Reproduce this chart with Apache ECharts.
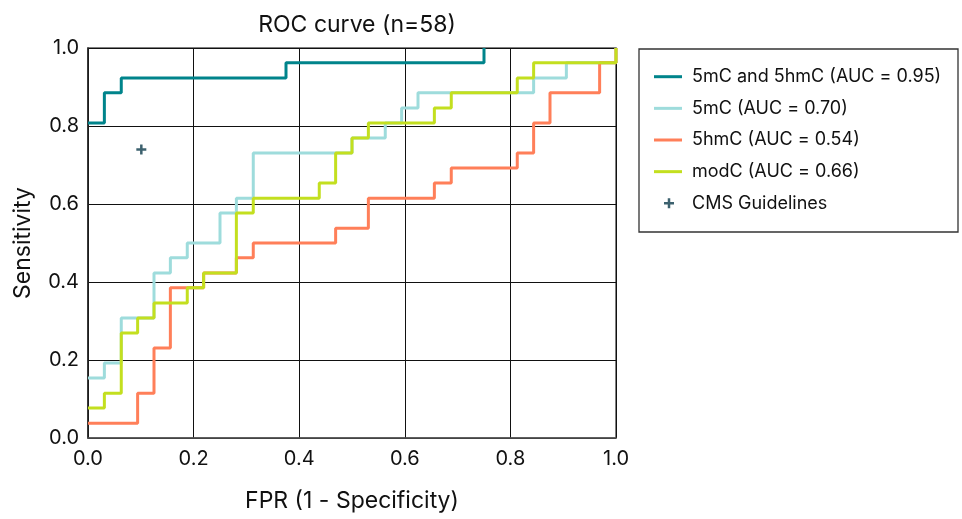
<!DOCTYPE html>
<html>
<head>
<meta charset="utf-8">
<script src="https://cdn.jsdelivr.net/npm/echarts@6/dist/echarts.min.js"></script>
<style>
  html, body { margin: 0; padding: 0; background: #fff; }
  #chart { width: 962px; height: 519px; }
</style>
</head>
<body>
<div id="chart"></div>
<script>
// ROC step curves, corner points as [FPR, sensitivity]
const both = [[0, 0.808], [0.031, 0.808], [0.031, 0.885], [0.063, 0.885], [0.063, 0.923],
  [0.375, 0.923], [0.375, 0.962], [0.75, 0.962], [0.75, 1.0]];

const mC = [[0, 0.154], [0.031, 0.154], [0.031, 0.192], [0.063, 0.192], [0.063, 0.308],
  [0.125, 0.308], [0.125, 0.423], [0.156, 0.423], [0.156, 0.462], [0.188, 0.462],
  [0.188, 0.5], [0.25, 0.5], [0.25, 0.577], [0.281, 0.577], [0.281, 0.615],
  [0.313, 0.615], [0.313, 0.731], [0.5, 0.731], [0.5, 0.769], [0.563, 0.769],
  [0.563, 0.808], [0.594, 0.808], [0.594, 0.846], [0.625, 0.846], [0.625, 0.885],
  [0.844, 0.885], [0.844, 0.923], [0.906, 0.923], [0.906, 0.962], [1, 0.962], [1, 1]];

const hmC = [[0, 0.038], [0.094, 0.038], [0.094, 0.115], [0.125, 0.115], [0.125, 0.231],
  [0.156, 0.231], [0.156, 0.385], [0.219, 0.385], [0.219, 0.423], [0.281, 0.423],
  [0.281, 0.462], [0.313, 0.462], [0.313, 0.5], [0.469, 0.5], [0.469, 0.538],
  [0.531, 0.538], [0.531, 0.615], [0.656, 0.615], [0.656, 0.654], [0.688, 0.654],
  [0.688, 0.692], [0.813, 0.692], [0.813, 0.731], [0.844, 0.731], [0.844, 0.808],
  [0.875, 0.808], [0.875, 0.885], [0.969, 0.885], [0.969, 0.962], [1, 0.962], [1, 1]];

const modC = [[0, 0.077], [0.031, 0.077], [0.031, 0.115], [0.063, 0.115], [0.063, 0.269],
  [0.094, 0.269], [0.094, 0.308], [0.125, 0.308], [0.125, 0.346], [0.188, 0.346],
  [0.188, 0.385], [0.219, 0.385], [0.219, 0.423], [0.281, 0.423], [0.281, 0.577],
  [0.313, 0.577], [0.313, 0.615], [0.438, 0.615], [0.438, 0.654], [0.469, 0.654],
  [0.469, 0.731], [0.5, 0.731], [0.5, 0.769], [0.531, 0.769], [0.531, 0.808],
  [0.656, 0.808], [0.656, 0.846], [0.688, 0.846], [0.688, 0.885], [0.813, 0.885],
  [0.813, 0.923], [0.844, 0.923], [0.844, 0.962], [1, 0.962], [1, 1]];

const cms = [[0.101, 0.74]];

const names = ['5mC and 5hmC (AUC = 0.95)', '5mC (AUC = 0.70)', '5hmC (AUC = 0.54)',
  'modC (AUC = 0.66)', 'CMS Guidelines'];
const colors = ['#00848b', '#9edcdc', '#ff7f59', '#c3df1f', '#0b3a4a'];

const FONT = 'Inter, "Noto Sans", sans-serif';
const plus = 'path://M3,0h2v3h3v2h-3v3h-2v-3h-3v-2h3z';

function stepLine(i, data) {
  return {
    name: names[i],
    type: 'line',
    data: data,
    symbol: 'none',
    lineStyle: { color: colors[i], width: 3 },
    itemStyle: { color: colors[i] }
  };
}

const legendText = { fontFamily: FONT, fontSize: 18, lineHeight: 18, color: '#111', padding: [0, 0, 0, 5] };

const chart = echarts.init(document.getElementById('chart'));
chart.setOption({
  animation: false,
  textStyle: { fontFamily: FONT },
  title: {
    text: 'ROC curve (n=58)',
    left: 352, top: 9, textAlign: 'center',
    textStyle: { fontFamily: FONT, fontSize: 23, fontWeight: 'normal', color: '#111' }
  },
  grid: { left: 88, right: 346, top: 48, bottom: 81, show: true, borderColor: '#555', borderWidth: 1.5 },
  graphic: [{
    type: 'rect',
    shape: { x: 639, y: 49, width: 319, height: 183 },
    style: { fill: 'none', stroke: '#333', lineWidth: 1.3 }
  }],
  legend: [{
    orient: 'vertical',
    left: 654, top: 67.7, padding: 0,
    icon: 'rect',
    itemWidth: 28, itemHeight: 3, itemGap: 13.65,
    textStyle: legendText,
    data: names.slice(0, 4)
  }, {
    orient: 'vertical',
    left: 664, top: 194.3, padding: 0,
    itemWidth: 10, itemHeight: 10,
    textStyle: Object.assign({}, legendText, { padding: [0, 0, 0, 13] }),
    data: [{ name: names[4], icon: plus }]
  }],
  xAxis: {
    type: 'value', min: 0, max: 1, interval: 0.2,
    name: 'FPR (1 - Specificity)', nameLocation: 'middle', nameGap: 52,
    nameTextStyle: { fontFamily: FONT, fontSize: 23, color: '#111' },
    axisLine: { show: true, lineStyle: { color: '#555', width: 1.5 } },
    axisTick: { show: false },
    axisLabel: { fontFamily: FONT, fontSize: 20, color: '#111', margin: 11, formatter: v => v.toFixed(1) },
    splitLine: { show: true, lineStyle: { color: '#111', width: 1 } }
  },
  yAxis: {
    type: 'value', min: 0, max: 1, interval: 0.2,
    name: 'Sensitivity', nameLocation: 'middle', nameGap: 53,
    nameTextStyle: { fontFamily: FONT, fontSize: 23, color: '#111' },
    axisLine: { show: true, lineStyle: { color: '#222', width: 1.5 } },
    axisTick: { show: false },
    axisLabel: { fontFamily: FONT, fontSize: 20, color: '#111', margin: 9, formatter: v => v.toFixed(1) },
    splitLine: { show: true, lineStyle: { color: '#111', width: 1 } }
  },
  series: [
    stepLine(0, both),
    stepLine(1, mC),
    stepLine(2, hmC),
    stepLine(3, modC),
    {
      name: names[4],
      type: 'scatter',
      data: cms,
      symbol: plus,
      symbolSize: 10,
      itemStyle: { color: colors[4] }
    }
  ]
});
</script>
</body>
</html>
